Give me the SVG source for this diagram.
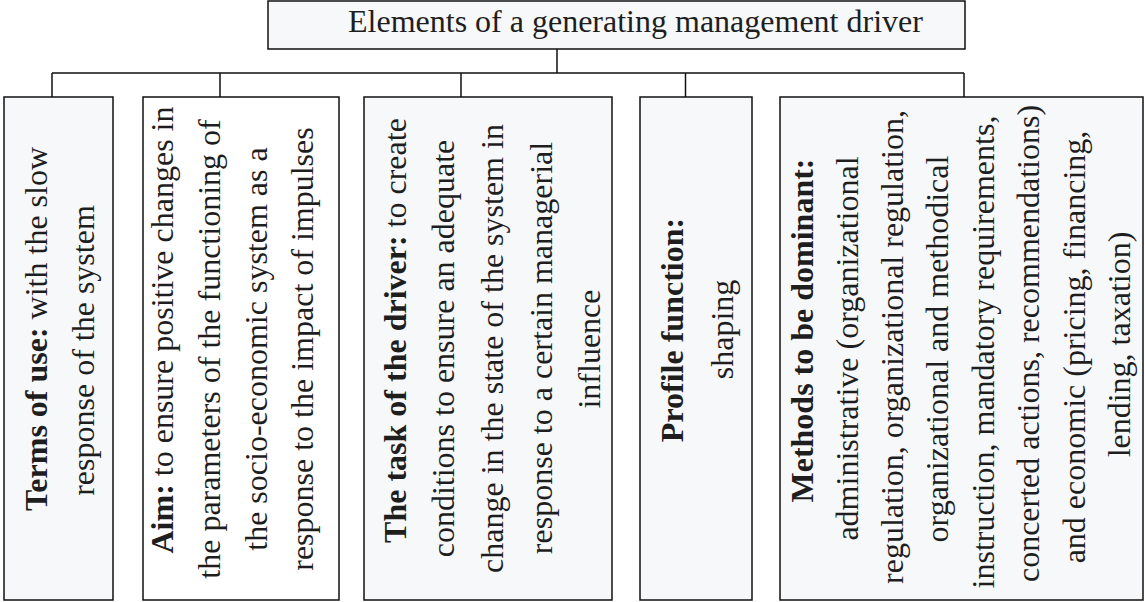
<svg xmlns="http://www.w3.org/2000/svg" width="1145" height="602" viewBox="0 0 1145 602">
<style>
.box{fill:#f7f8fa;stroke:#111;stroke-width:1.5}
.white{fill:#ffffff}
.t{font-family:"Liberation Serif","Times New Roman",serif;font-size:32px;fill:#1e1e1e;text-anchor:middle}
.b{font-weight:bold}
.c{fill:none;stroke:#111;stroke-width:1.5}
</style>
<rect width="1145" height="602" fill="#ffffff"/>
<g id="connectors" class="c">
<path d="M557,49V73M52,73H964M52,73V97M220,73V97M461,73V97M685.5,73V97M964,73V97"/>
</g>
<g id="root">
<rect class="box" x="268" y="1" width="697" height="48"/>
<text class="t" x="348" y="32" style="text-anchor:start">Elements of a generating management driver</text>
</g>
<g id="terms">
<rect class="box" x="4" y="97" width="109" height="503"/>
<text class="t" transform="translate(47,329) rotate(-90)"><tspan class="b">Terms of use:</tspan> with the slow</text>
<text class="t" transform="translate(94,350.5) rotate(-90)">response of the system</text>
</g>
<g id="aim">
<rect class="box white" x="143" y="97" width="196" height="503"/>
<text class="t" transform="translate(173,330) rotate(-90)"><tspan class="b">Aim:</tspan> to ensure positive changes in</text>
<text class="t" transform="translate(220,349) rotate(-90)">the parameters of the functioning of</text>
<text class="t" transform="translate(267,349) rotate(-90)">the socio-economic system as a</text>
<text class="t" transform="translate(313,349) rotate(-90)">response to the impact of impulses</text>
</g>
<g id="task">
<rect class="box" x="364" y="97" width="248" height="503"/>
<text class="t" transform="translate(406,330.5) rotate(-90)"><tspan class="b">The task of the driver:</tspan> to create</text>
<text class="t" transform="translate(454,348.5) rotate(-90)">conditions to ensure an adequate</text>
<text class="t" transform="translate(503,348.5) rotate(-90)">change in the state of the system in</text>
<text class="t" transform="translate(552,348) rotate(-90)">response to a certain managerial</text>
<text class="t" transform="translate(600,349) rotate(-90)">influence</text>
</g>
<g id="profile">
<rect class="box" x="640" y="97" width="112" height="503"/>
<text class="t b" transform="translate(683,330) rotate(-90)">Profile function:</text>
<text class="t" transform="translate(733,329.5) rotate(-90)">shaping</text>
</g>
<g id="methods">
<rect class="box" x="780" y="97" width="363" height="503"/>
<text class="t b" transform="translate(813,330.5) rotate(-90)">Methods to be dominant:</text>
<text class="t" transform="translate(858,348.5) rotate(-90)">administrative (organizational</text>
<text class="t" transform="translate(903,347) rotate(-90)">regulation, organizational regulation,</text>
<text class="t" transform="translate(948,349) rotate(-90)">organizational and methodical</text>
<text class="t" transform="translate(994,352) rotate(-90)">instruction, mandatory requirements,</text>
<text class="t" transform="translate(1039,343.5) rotate(-90)">concerted actions, recommendations)</text>
<text class="t" transform="translate(1085,347) rotate(-90)">and economic (pricing, financing,</text>
<text class="t" transform="translate(1130,344.5) rotate(-90)">lending, taxation)</text>
</g>
</svg>
